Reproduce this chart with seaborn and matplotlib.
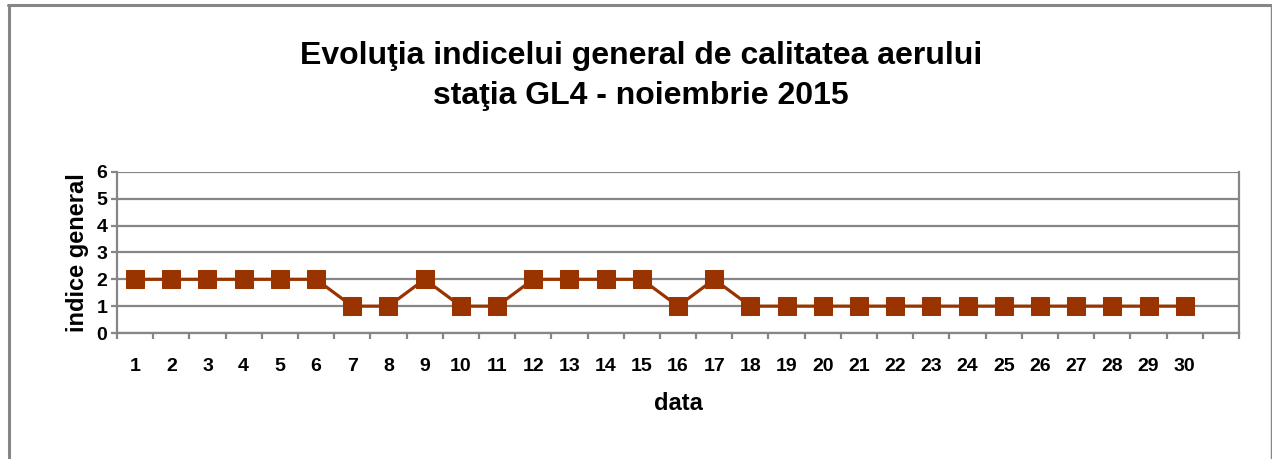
import matplotlib.pyplot as plt
import seaborn as sns
import pandas as pd

# Data
days = list(range(1, 31))
index_values = [2, 2, 2, 2, 2, 2, 1, 1, 2, 1,
                1, 2, 2, 2, 2, 1, 2, 1, 1, 1,
                1, 1, 1, 1, 1, 1, 1, 1, 1, 1]
y_ticks = [0, 1, 2, 3, 4, 5, 6]

title = "Evoluţia indicelui general de calitatea aerului\nstaţia GL4 - noiembrie 2015"
x_label = "data"
y_label = "indice general"

line_color = "#993300"
grid_color = "#868686"

sns.set_theme(style="white")
plt.rcParams["font.family"] = ["Liberation Sans", "DejaVu Sans"]
plt.rcParams["text.color"] = "black"
plt.rcParams["axes.labelcolor"] = "black"
plt.rcParams["xtick.color"] = "black"
plt.rcParams["ytick.color"] = "black"

df = pd.DataFrame({"day": days, "value": index_values})

fig = plt.figure(figsize=(12.72, 4.59), dpi=100)
ax = fig.add_axes([117 / 1272, 1 - 333 / 459, (1239 - 117) / 1272, (333 - 172) / 459])

sns.lineplot(data=df, x="day", y="value", color=line_color, linewidth=2.3,
             marker="s", markersize=12.5, markeredgecolor=line_color, ax=ax)

ax.set_xlim(0.5, 31.5)
ax.set_ylim(0, 6)
ax.set_yticks(y_ticks)
ax.yaxis.grid(True, color=grid_color, linewidth=1.6)
ax.set_axisbelow(True)

# category labels centred, tick marks on the boundaries
ax.set_xticks(days)
ax.set_xticklabels([str(d) for d in days])
ax.set_xticks([d + 0.5 for d in range(0, 32)], minor=True)
ax.tick_params(axis="x", which="major", length=0, pad=18, labelsize=14, labelcolor="black")
ax.tick_params(axis="x", which="minor", bottom=True, length=4, width=1.6, color=grid_color)
ax.tick_params(axis="y", left=True, length=4, width=1.6, color=grid_color, pad=3,
               labelsize=14, labelcolor="black")
for lab in ax.get_xticklabels() + ax.get_yticklabels():
    lab.set_fontweight("bold")

for side in ["left", "bottom", "right", "top"]:
    ax.spines[side].set_color(grid_color)
    ax.spines[side].set_linewidth(1.6)
ax.spines["top"].set_visible(False)

ax.set_xlabel(x_label, fontsize=17, fontweight="bold", labelpad=12, color="black")
ax.set_ylabel(y_label, fontsize=17, fontweight="bold", labelpad=5, color="black")

fig.text(641 / 1272, 1 - 76 / 459, title, ha="center", va="center",
         fontsize=23, fontweight="bold", linespacing=1.45, color="black")

# outer chart border
fig.add_artist(plt.Line2D([9 / 1272, 9 / 1272], [0, 1 - 5 / 459], transform=fig.transFigure,
                          color=grid_color, linewidth=2.2))
fig.add_artist(plt.Line2D([8 / 1272, 1270.5 / 1272], [1 - 5 / 459, 1 - 5 / 459],
                          transform=fig.transFigure, color=grid_color, linewidth=2.2))
fig.add_artist(plt.Line2D([1270.5 / 1272, 1270.5 / 1272], [0, 1 - 5 / 459],
                          transform=fig.transFigure, color=grid_color, linewidth=1.0))

fig.savefig("out.png", dpi=100, facecolor="white")
